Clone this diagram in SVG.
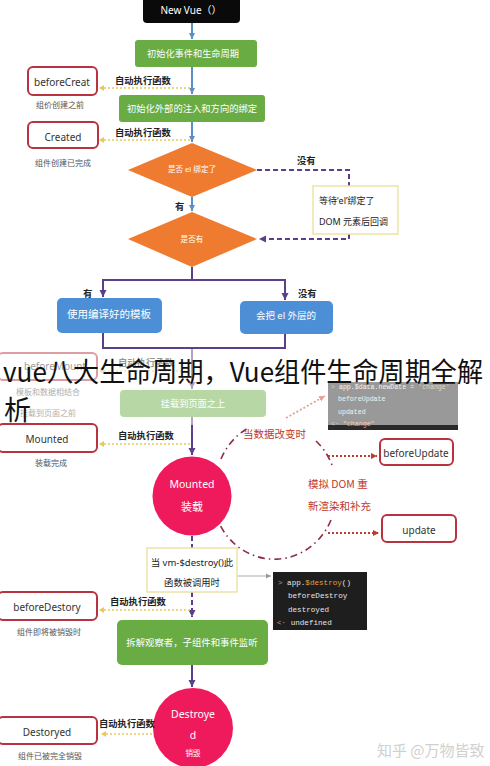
<svg xmlns="http://www.w3.org/2000/svg" width="490" height="766" viewBox="0 0 490 766">
<defs>
<style>
.t{font-family:"Noto Sans","Noto Sans CJK SC",sans-serif}
.w{fill:#fff}
.lbl{font-family:"Noto Sans CJK SC",sans-serif;font-size:9.3px;fill:#222;font-weight:bold}
.sub{font-family:"Noto Sans CJK SC",sans-serif;font-size:8px;fill:#555}
.rb{fill:#fff;stroke:#b8323f;stroke-width:2}
.rbt{font-family:"Noto Sans","Noto Sans CJK SC",sans-serif;font-size:10px;fill:#333;text-anchor:middle}
.gr{fill:#6aac44}
.bl{fill:#4d8fd6}
.dm{fill:#ee7b30}
.ci{fill:#ef1a5c}
.yb{fill:#fff;stroke:#ece3a6;stroke-width:1.5}
.red{font-family:"Noto Sans CJK SC",sans-serif;font-size:10.5px;fill:#c0392b}
.code{font-family:"Liberation Mono","DejaVu Sans Mono",monospace;fill:#e6e6e6}
.ydot{stroke:#e8c95a;stroke-width:1.6;stroke-dasharray:2 2;fill:none}
.blue{stroke:#5b8fc7;stroke-width:2;fill:none}
.pur{stroke:#5a3f8a;stroke-width:2;fill:none}
.pdash{stroke:#5a3f8a;stroke-width:2;stroke-dasharray:5 3;fill:none}
.dd{stroke:#8c2d45;stroke-width:1.6;stroke-dasharray:7 4 1.5 4;fill:none}
.rdot{stroke:#c0392b;stroke-width:1.8;stroke-dasharray:2 2;fill:none}
</style>
<marker id="ab" markerWidth="8" markerHeight="8" refX="6" refY="4" orient="auto" markerUnits="userSpaceOnUse"><path d="M0,1 L6,4 L0,7 z" fill="#5b8fc7"/></marker>
<marker id="ap" markerWidth="9" markerHeight="9" refX="7" refY="4.5" orient="auto" markerUnits="userSpaceOnUse"><path d="M0,1 L7,4.5 L0,8 z" fill="#5a3f8a"/></marker>
<marker id="ay" markerWidth="7" markerHeight="7" refX="5" refY="3.5" orient="auto" markerUnits="userSpaceOnUse"><path d="M0,0.5 L5,3.5 L0,6.5 z" fill="#e8c95a"/></marker>
<marker id="ar" markerWidth="8" markerHeight="8" refX="6" refY="4" orient="auto" markerUnits="userSpaceOnUse"><path d="M0,1 L6,4 L0,7 z" fill="#c0392b"/></marker>
<marker id="ag" markerWidth="7" markerHeight="7" refX="5" refY="3.5" orient="auto" markerUnits="userSpaceOnUse"><path d="M0,1 L5,3.5 L0,6 z" fill="#999"/></marker>
</defs>
<rect width="490" height="766" fill="#fff"/>

<g id="connectors">
<line class="blue" x1="192" y1="23" x2="192" y2="39" marker-end="url(#ab)"/>
<line class="blue" x1="192" y1="67" x2="192" y2="94" marker-end="url(#ab)"/>
<line class="ydot" x1="190" y1="88" x2="99" y2="88" marker-end="url(#ay)"/>
<line class="blue" x1="192" y1="122" x2="192" y2="142" marker-end="url(#ab)"/>
<line class="ydot" x1="190" y1="140" x2="99" y2="140" marker-end="url(#ay)"/>
<line class="blue" x1="192" y1="197" x2="192" y2="211" marker-end="url(#ab)"/>
<polyline class="pdash" points="257,170 349,170 349,186"/>
<polyline class="pdash" points="349,234 349,239 259,239" marker-end="url(#ap)"/>
<line class="pur" x1="192" y1="267" x2="192" y2="280"/>
<line class="pur" x1="102" y1="280" x2="286" y2="280"/>
<line class="pur" x1="103" y1="280" x2="103" y2="297" marker-end="url(#ap)"/>
<line class="pur" x1="285" y1="280" x2="285" y2="300" marker-end="url(#ap)"/>
<polyline class="pur" points="103,333 103,348 285,348 285,334"/>
<line class="pur" x1="192" y1="348" x2="192" y2="389" marker-end="url(#ap)"/>
<line class="ydot" x1="190" y1="371" x2="99" y2="371" marker-end="url(#ay)"/>
<line class="pur" x1="192" y1="417" x2="192" y2="455" marker-end="url(#ap)"/>
<line class="ydot" x1="190" y1="444" x2="99" y2="444" marker-end="url(#ay)"/>
<path class="dd" d="M221 459 A62 66 0 0 1 250 427"/>
<path class="dd" d="M316 441 A62 66 0 0 1 332 465"/>
<path class="dd" d="M331 520 A62 66 0 0 1 220 525"/>
<line class="rdot" x1="286" y1="418" x2="325" y2="396" marker-end="url(#ar)"/>
<line class="rdot" x1="328" y1="456" x2="377" y2="456" marker-end="url(#ar)"/>
<line class="rdot" x1="328" y1="533" x2="379" y2="533" marker-end="url(#ar)"/>
<line class="pdash" x1="192" y1="536" x2="192" y2="548"/>
<line x1="237" y1="576" x2="271" y2="576" stroke="#aaa" stroke-width="1" marker-end="url(#ag)"/>
<line class="pdash" x1="192" y1="592" x2="192" y2="617" marker-end="url(#ap)"/>
<line class="ydot" x1="190" y1="610" x2="99" y2="610" marker-end="url(#ay)"/>
<line class="pur" x1="192" y1="665" x2="192" y2="687" marker-end="url(#ap)"/>
<line class="ydot" x1="152" y1="734" x2="101" y2="734" marker-end="url(#ay)"/>
</g>

<g id="newvue"><rect x="143" y="-6" width="97" height="29" rx="4" fill="#0a0a0a"/><text class="t w" x="191" y="14" font-size="10" text-anchor="middle">New Vue（）</text></g>
<g id="init1"><rect class="gr" x="135" y="40" width="122" height="27" rx="3"/><text class="t w" x="193" y="57" font-size="9.2" text-anchor="middle">初始化事件和生命周期</text></g>
<g id="beforeCreat"><rect class="rb" x="28" y="67" width="69" height="28" rx="5"/><text class="rbt" x="62" y="86">beforeCreat</text><text class="sub" x="36" y="108">组价创建之前</text></g>
<text class="lbl" x="115" y="84">自动执行函数</text>
<g id="init2"><rect class="gr" x="119" y="95" width="146" height="27" rx="3"/><text class="t w" x="192" y="112" font-size="9.3" text-anchor="middle">初始化外部的注入和方向的绑定</text></g>
<g id="created"><rect class="rb" x="28" y="122" width="70" height="26" rx="5"/><text class="rbt" x="63" y="141">Created</text><text class="sub" x="35" y="166">组件创建已完成</text></g>
<text class="lbl" x="115" y="136">自动执行函数</text>
<g id="d1"><polygon class="dm" points="192,143 257,170 192,197 128,170"/><text class="t w" x="192" y="172" font-size="7.6" text-anchor="middle">是否 el 绑定了</text></g>
<text class="lbl" x="297" y="164" font-weight="normal" font-size="10">没有</text>
<g id="wait"><rect class="yb" x="313" y="186" width="85" height="48"/><text class="t" x="319" y="204" font-size="9" fill="#222">等待‘el’绑定了</text><text class="t" x="319" y="225" font-size="9" fill="#222">DOM 元素后回调</text></g>
<text class="lbl" x="175" y="210" font-size="10">有</text>
<g id="d2"><polygon class="dm" points="192,212 257,239 192,267 128,239"/><text class="t w" x="192" y="242" font-size="7.6" text-anchor="middle">是否有</text></g>
<text class="lbl" x="83" y="297" font-weight="normal" font-size="9.5">有</text>
<text class="lbl" x="298" y="297" font-weight="normal" font-size="9.5">没有</text>
<g id="compiled"><rect class="bl" x="57" y="298" width="105" height="35" rx="5"/><text class="t w" x="109" y="318" font-size="10.5" text-anchor="middle">使用编译好的模板</text></g>
<g id="outer"><rect class="bl" x="240" y="301" width="93" height="33" rx="5"/><text class="t w" x="286" y="319" font-size="9.5" text-anchor="middle">会把 el 外层的</text></g>

<g id="beforeMount"><rect class="rb" x="-2" y="353" width="99" height="27" rx="5"/><text class="rbt" x="55" y="370">beforeMount</text><text class="sub" x="16" y="395">模板和数据相结合</text><text class="sub" x="20" y="416">挂载到页面之前</text></g>
<text class="lbl" x="118" y="366">自动执行函数</text>
<g id="mount"><rect class="gr" x="120" y="390" width="146" height="27" rx="4"/><text class="t w" x="193" y="407" font-size="9.2" text-anchor="middle">挂载到页面之上</text></g>
<g id="code1"><rect x="328" y="382" width="130" height="48" fill="#2a2a2a"/>
<text class="code" x="331" y="389" font-size="6.6"><tspan fill="#8ab">&gt;</tspan> app.$data.newDate = <tspan fill="#e8a060">'change'</tspan></text>
<text class="code" x="338" y="401" font-size="6.6">beforeUpdate</text>
<text class="code" x="338" y="414" font-size="6.6">updated</text>
<text class="code" x="331" y="426" font-size="6.6"><tspan fill="#aaa">&lt;·</tspan> <tspan fill="#e8a060">"change"</tspan></text></g>
<rect x="0" y="349" width="490" height="76" fill="#fff" opacity="0.52"/>

<g id="mounted"><rect class="rb" x="-2" y="424" width="99" height="28" rx="5"/><text class="rbt" x="47" y="443">Mounted</text><text class="sub" x="35" y="466">装载完成</text></g>
<text class="lbl" x="118" y="439">自动执行函数</text>
<g id="mountedCircle"><circle class="ci" cx="192" cy="496" r="39.5"/><text class="t w" x="192" y="488" font-size="10.5" text-anchor="middle">Mounted</text><text class="t w" x="192" y="511" font-size="11" text-anchor="middle">装载</text></g>
<text class="red" x="243" y="438">当数据改变时</text>
<text class="red" x="308" y="488">模拟 DOM 重</text>
<text class="red" x="308" y="510">新渲染和补充</text>
<g id="beforeUpdate"><rect class="rb" x="380" y="439" width="73" height="26" rx="5"/><text class="rbt" x="416" y="457">beforeUpdate</text></g>
<g id="update"><rect class="rb" x="382" y="515" width="74" height="27" rx="5"/><text class="rbt" x="419" y="534">update</text></g>

<g id="destroyCall"><rect class="yb" x="147" y="548" width="90" height="44"/><text class="t" x="192" y="566" font-size="9.5" fill="#222" text-anchor="middle">当 vm-$destroy()此</text><text class="t" x="192" y="586" font-size="9.3" fill="#222" text-anchor="middle">函数被调用时</text></g>
<g id="code2"><rect x="273" y="572" width="94" height="58" fill="#1e1e1e"/>
<text class="code" x="278" y="585" font-size="7.6"><tspan fill="#8ab">&gt;</tspan> app.<tspan fill="#e0a040">$destroy</tspan>()</text>
<text class="code" x="288" y="598" font-size="7.6">beforeDestroy</text>
<text class="code" x="288" y="612" font-size="7.6">destroyed</text>
<text class="code" x="277" y="625" font-size="7.6" fill="#777"><tspan fill="#aaa">&lt;·</tspan> undefined</text></g>
<g id="beforeDestory"><rect class="rb" x="-2" y="592" width="99" height="28" rx="5"/><text class="rbt" x="47" y="611">beforeDestory</text><text class="sub" x="17" y="635">组件即将被销毁时</text></g>
<text class="lbl" x="110" y="605">自动执行函数</text>
<g id="teardown"><rect class="gr" x="117" y="620" width="151" height="45" rx="5"/><text class="t w" x="192" y="646" font-size="9.4" text-anchor="middle">拆解观察者，子组件和事件监听</text></g>
<g id="destroyedCircle"><circle class="ci" cx="193" cy="728" r="40"/><text class="t w" x="193" y="718" font-size="10.5" text-anchor="middle">Destroye</text><text class="t w" x="193" y="739" font-size="10.5" text-anchor="middle">d</text><text class="t w" x="193" y="756" font-size="7.5" text-anchor="middle">销毁</text></g>
<g id="destoryed"><rect class="rb" x="-2" y="717" width="99" height="27" rx="5"/><text class="rbt" x="47" y="736">Destoryed</text><text class="sub" x="18" y="759">组件已被完全销毁</text></g>
<text class="lbl" x="99" y="727" font-size="8">自动执行函数</text>

<text x="377" y="756" font-family="Noto Sans CJK SC,sans-serif" font-size="15" fill="#d0d0d0">知乎 @万物皆致</text>
<text x="3" y="382" font-family="Noto Sans CJK SC,sans-serif" font-size="27" fill="#111" textLength="480" lengthAdjust="spacingAndGlyphs">vue八大生命周期，Vue组件生命周期全解</text>
<text x="4" y="420" font-family="Noto Sans CJK SC,sans-serif" font-size="27" fill="#111">析</text>
</svg>
